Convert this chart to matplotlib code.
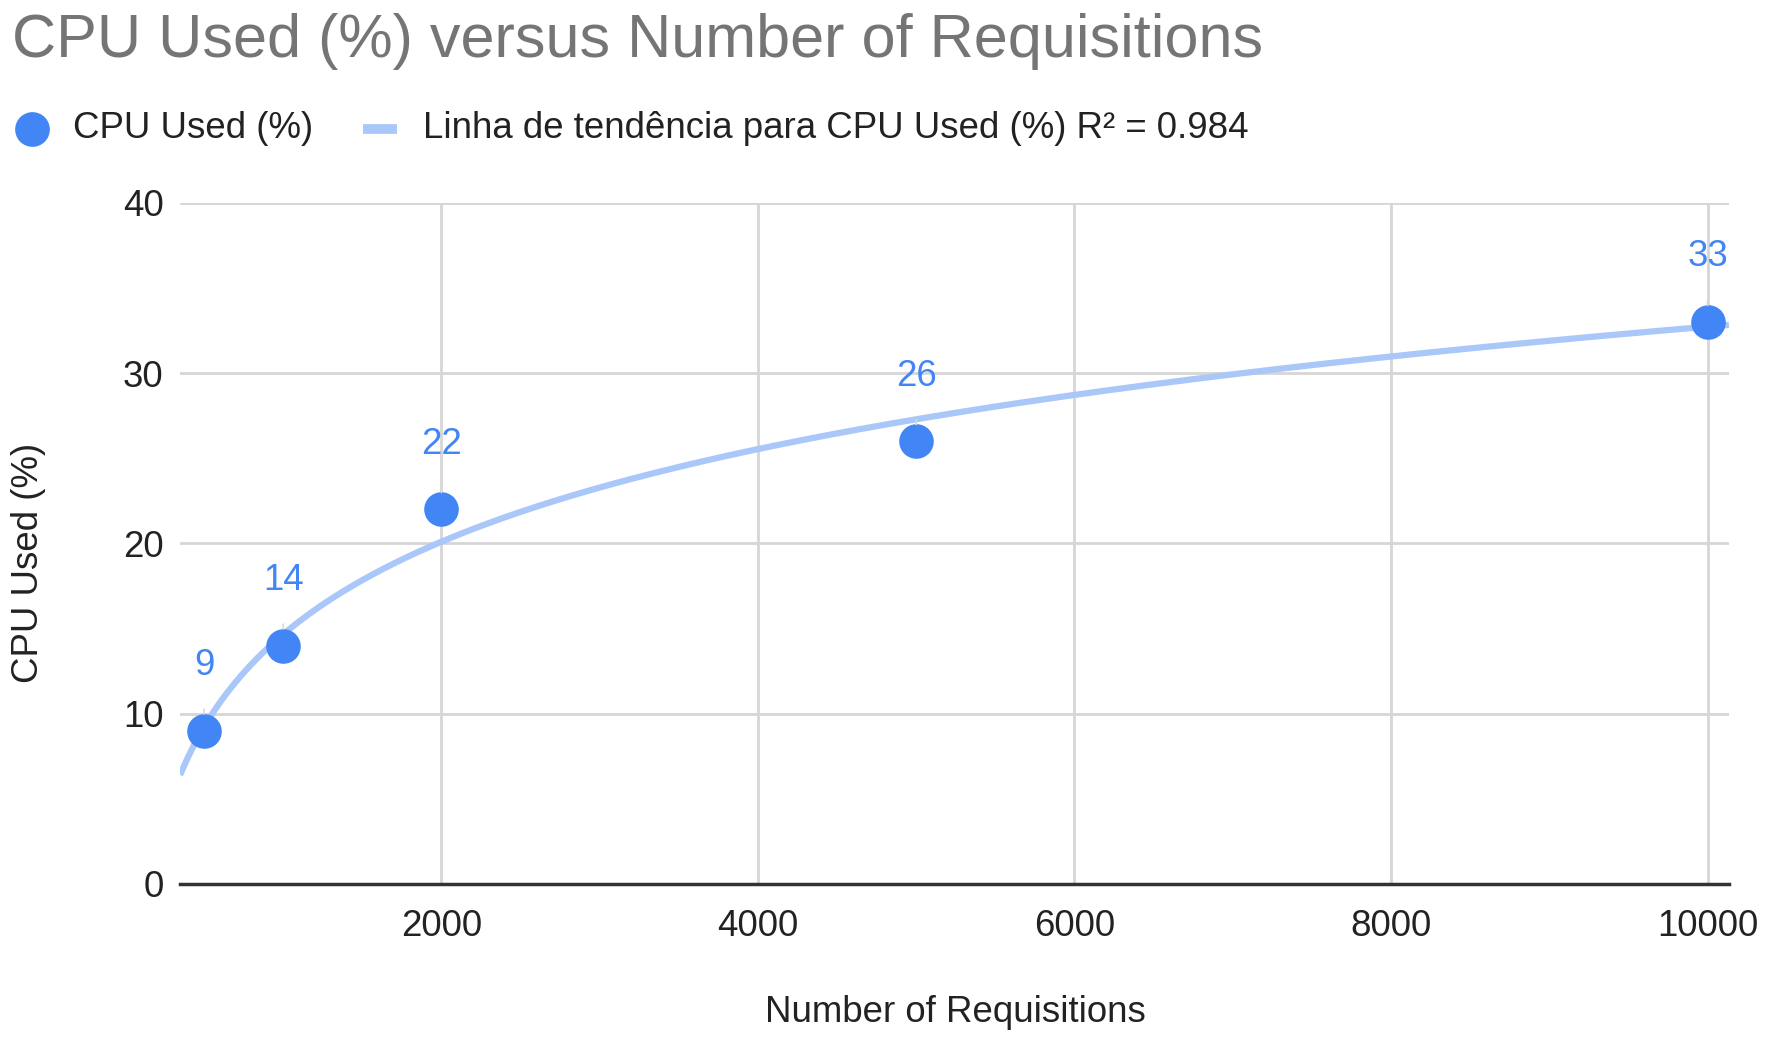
import numpy as np
import matplotlib
matplotlib.use('Agg')
import matplotlib.pyplot as plt
from matplotlib.lines import Line2D

# data
requisitions = [500, 1000, 2000, 5000, 10000]
cpu_used = [9, 14, 22, 26, 33]
x_ticks = [2000, 4000, 6000, 8000, 10000]
y_ticks = [0, 10, 20, 30, 40]
r_squared = 0.984

plt.rcParams['font.family'] = ['Liberation Sans', 'DejaVu Sans']

blue = '#4285F4'
trend_blue = '#a9c7f8'
grid_gray = '#d6d6d6'
fs = 26.4

fig = plt.figure(figsize=(17.66, 10.41), dpi=100)
ax = fig.add_axes([0.102, 0.151, 0.877, 0.654])

xmin, xmax = 349, 10135
ax.set_xlim(xmin, xmax)
ax.set_ylim(0, 40)

# logarithmic trend line fitted to the points
slope, intercept = np.polyfit(np.log(requisitions), cpu_used, 1)
xs = np.linspace(xmin, xmax, 400)
ax.plot(xs, slope * np.log(xs) + intercept, color=trend_blue, lw=4.5,
        solid_capstyle='butt', zorder=2)

ax.scatter(requisitions, cpu_used, s=620, color=blue, zorder=4, linewidths=0)

for x, y in zip(requisitions, cpu_used):
    ax.annotate(str(y), xy=(x, y), xytext=(0, 47), textcoords='offset points',
                ha='center', va='center', fontsize=fs, color=blue, zorder=5,
                arrowprops=dict(arrowstyle='-', color='#d8d8d8', lw=1.2,
                                shrinkA=17, shrinkB=12))

ax.set_xticks(x_ticks)
ax.set_yticks(y_ticks)
ax.tick_params(length=0, labelsize=fs, labelcolor='#222222', pad=12)
ax.tick_params(axis='x', pad=18)
ax.grid(True, color=grid_gray, lw=2)
ax.set_axisbelow(True)
for s in ['left', 'right', 'top']:
    ax.spines[s].set_visible(False)
ax.spines['bottom'].set_color('#333333')
ax.spines['bottom'].set_linewidth(2.5)
ax.spines['bottom'].set_zorder(3)

fig.text(0.007, 0.96, 'CPU Used (%) versus Number of Requisitions',
         fontsize=44, color='#757575', ha='left', va='center')

fig.text(0.016, 0.459, 'CPU Used (%)', rotation=90, fontsize=fs,
         color='#222222', ha='center', va='center')
fig.text(0.541, 0.027, 'Number of Requisitions', fontsize=fs,
         color='#222222', ha='center', va='center')

# legend drawn by hand
ly = 1 - 129 / 1041
fig.add_artist(Line2D([32 / 1766], [ly], marker='o', markersize=25,
                      color=blue, markeredgewidth=0, transform=fig.transFigure))
fig.text(73 / 1766, ly, 'CPU Used (%)', fontsize=fs, color='#222222',
         ha='left', va='center')
fig.add_artist(Line2D([363 / 1766, 397 / 1766], [ly, ly], lw=7,
                      color=trend_blue, solid_capstyle='butt',
                      transform=fig.transFigure))
fig.text(423 / 1766, ly,
         'Linha de tendência para CPU Used (%) R² = {:.3f}'.format(r_squared),
         fontsize=fs, color='#222222', ha='left', va='center')

fig.savefig('out.png', dpi=100, facecolor='white')
